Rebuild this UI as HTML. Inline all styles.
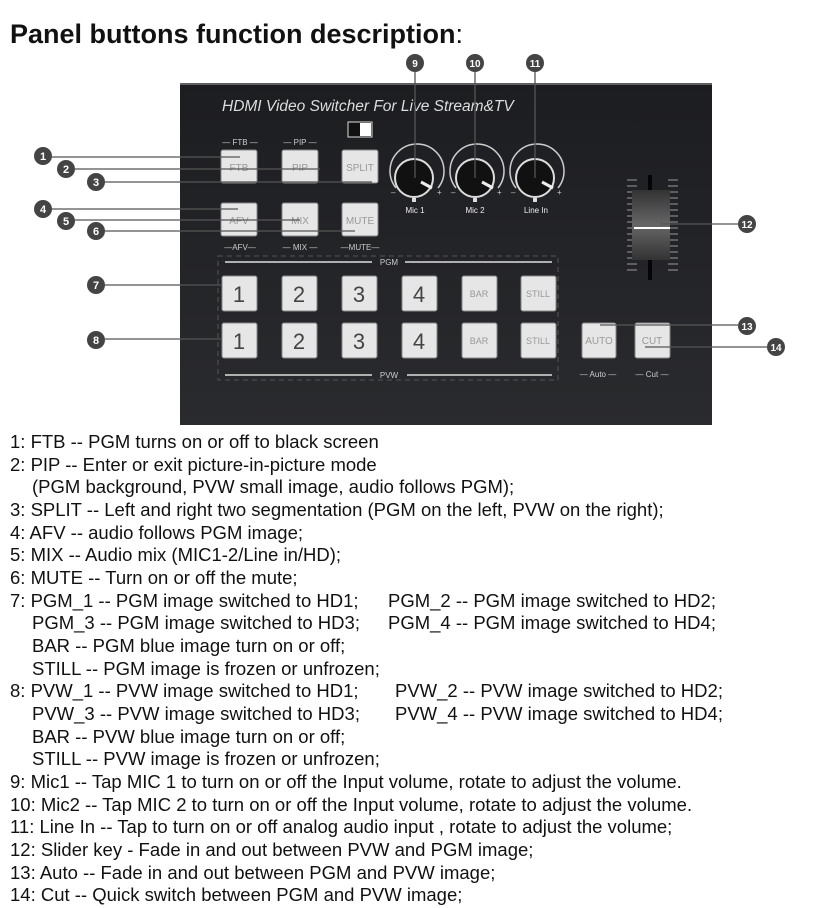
<!DOCTYPE html>
<html><head><meta charset="utf-8"><style>
body{margin:0;width:827px;height:908px;background:#fff;position:relative;overflow:hidden;font-family:"Liberation Sans",Arial,sans-serif;}
.t{position:absolute;left:10px;font-size:27px;font-weight:bold;top:19px;color:#111;white-space:nowrap;}
.l{position:absolute;font-size:18.5px;line-height:22px;color:#111;white-space:nowrap;transform:scaleX(1.0);transform-origin:left top;}
svg{position:absolute;left:0;top:0;}
</style></head><body>
<div class="t">Panel buttons function description<span style="font-weight:normal">:</span></div>
<svg width="827" height="908" viewBox="0 0 827 908" font-family="Liberation Sans, Arial, sans-serif">
<defs>
<linearGradient id="pg" x1="0" y1="0" x2="0" y2="1"><stop offset="0" stop-color="#1c1d20"/><stop offset="1" stop-color="#2a2b2e"/></linearGradient>
<linearGradient id="sl" x1="0" y1="0" x2="0" y2="1"><stop offset="0" stop-color="#333"/><stop offset=".5" stop-color="#666"/><stop offset="1" stop-color="#333"/></linearGradient>
</defs>
<rect x="180" y="83" width="532" height="342" fill="url(#pg)"/>
<line x1="180" y1="84" x2="712" y2="84" stroke="#777" stroke-width="1.5"/>
<text x="222" y="111" fill="#ddd" font-size="15.5" font-style="italic">HDMI Video Switcher For Live Stream&amp;TV</text>
<g fill="#ccc" font-size="8" text-anchor="middle">
<text x="240" y="145">— FTB —</text><text x="300" y="145">— PIP —</text>
<text x="240" y="250">—AFV—</text><text x="300" y="250">— MIX —</text><text x="360" y="250">—MUTE—</text>
<text x="598" y="377">— Auto —</text><text x="652" y="377">— Cut —</text>
<text x="415" y="213" fill="#eee">Mic 1</text><text x="475" y="213" fill="#eee">Mic 2</text><text x="536" y="213" fill="#eee">Line In</text>
</g>
<rect x="348" y="122" width="24" height="15" fill="#111" stroke="#ddd"/><rect x="360" y="123" width="11" height="13" fill="#fff"/>
<g fill="#e6e6e6" stroke="#888" stroke-width="1">
<rect x="221" y="150" width="36" height="33" rx="2"/><rect x="282" y="150" width="36" height="33" rx="2"/><rect x="342" y="150" width="36" height="33" rx="2"/>
<rect x="221" y="203" width="36" height="33" rx="2"/><rect x="282" y="203" width="36" height="33" rx="2"/><rect x="342" y="203" width="36" height="33" rx="2"/>
<rect x="222" y="276" width="35" height="35" rx="2"/><rect x="282" y="276" width="35" height="35" rx="2"/><rect x="342" y="276" width="35" height="35" rx="2"/><rect x="402" y="276" width="35" height="35" rx="2"/><rect x="462" y="276" width="35" height="35" rx="2"/><rect x="521" y="276" width="35" height="35" rx="2"/>
<rect x="222" y="323" width="35" height="35" rx="2"/><rect x="282" y="323" width="35" height="35" rx="2"/><rect x="342" y="323" width="35" height="35" rx="2"/><rect x="402" y="323" width="35" height="35" rx="2"/><rect x="462" y="323" width="35" height="35" rx="2"/><rect x="521" y="323" width="35" height="35" rx="2"/>
<rect x="582" y="323" width="34" height="35" rx="2"/><rect x="635" y="323" width="35" height="35" rx="2"/>
</g>
<g fill="#999" font-size="10" text-anchor="middle">
<text x="239" y="171">FTB</text><text x="300" y="171">PIP</text><text x="360" y="171">SPLIT</text>
<text x="239" y="224">AFV</text><text x="300" y="224">MIX</text><text x="360" y="224">MUTE</text>
<text x="479" y="297" font-size="9">BAR</text><text x="538" y="297" font-size="9">STILL</text>
<text x="479" y="344" font-size="9">BAR</text><text x="538" y="344" font-size="9">STILL</text>
<text x="599" y="344">AUTO</text><text x="652" y="344">CUT</text>
</g>
<g fill="#444" font-size="22" text-anchor="middle">
<text x="239" y="302">1</text><text x="299" y="302">2</text><text x="359" y="302">3</text><text x="419" y="302">4</text>
<text x="239" y="349">1</text><text x="299" y="349">2</text><text x="359" y="349">3</text><text x="419" y="349">4</text>
</g>
<rect x="218" y="256" width="340" height="124" fill="none" stroke="#555" stroke-dasharray="5 4"/>
<g stroke="#ddd" stroke-width="1.5"><line x1="225" y1="262" x2="372" y2="262"/><line x1="405" y1="262" x2="552" y2="262"/><line x1="225" y1="375" x2="372" y2="375"/><line x1="407" y1="375" x2="552" y2="375"/></g>
<g fill="#ccc" font-size="8" text-anchor="middle"><text x="389" y="265">PGM</text><text x="389" y="378">PVW</text></g>
<g fill="none" stroke="#ccc" stroke-width="1.5">
<path d="M396 188 A27 27 0 1 1 438 188"/><path d="M456 188 A27 27 0 1 1 498 188"/><path d="M516 188 A27 27 0 1 1 558 188"/>
<circle cx="414" cy="178" r="19" fill="#111" stroke="#ddd" stroke-width="2"/><circle cx="475" cy="178" r="19" fill="#111" stroke="#ddd" stroke-width="2"/><circle cx="535" cy="178" r="19" fill="#111" stroke="#ddd" stroke-width="2"/>
<g stroke="#eee" stroke-width="3"><line x1="421" y1="182" x2="432" y2="188"/><line x1="482" y1="182" x2="493" y2="188"/><line x1="542" y1="182" x2="553" y2="188"/></g>
</g>
<g fill="#ccc" font-size="8"><text x="391" y="195">–</text><text x="437" y="195">+</text><text x="451" y="195">–</text><text x="497" y="195">+</text><text x="511" y="195">–</text><text x="557" y="195">+</text></g>
<g fill="#ddd"><rect x="412" y="198" width="4" height="4"/><rect x="473" y="198" width="4" height="4"/><rect x="533" y="198" width="4" height="4"/></g>
<line x1="650" y1="175" x2="650" y2="280" stroke="#050505" stroke-width="4"/>
<g stroke="#999" stroke-width="1"><path d="M627 180h10M627 186h10M627 192h10M627 198h10M627 204h10M627 210h10M627 216h10M627 222h10M627 228h10M627 234h10M627 240h10M627 246h10M627 252h10M627 258h10M627 264h10M627 270h10M668 180h10M668 186h10M668 192h10M668 198h10M668 204h10M668 210h10M668 216h10M668 222h10M668 228h10M668 234h10M668 240h10M668 246h10M668 252h10M668 258h10M668 264h10M668 270h10"/></g>
<rect x="632" y="190" width="38" height="70" fill="url(#sl)"/>
<line x1="634" y1="228" x2="670" y2="228" stroke="#fff" stroke-width="2"/>
<g stroke="#555" stroke-width="1.3" fill="none">
<line x1="52" y1="157" x2="240" y2="157"/><line x1="75" y1="169" x2="320" y2="169"/><line x1="105" y1="182" x2="372" y2="182"/>
<line x1="52" y1="209" x2="238" y2="209"/><line x1="75" y1="220" x2="300" y2="220"/><line x1="105" y1="231" x2="355" y2="231"/>
<line x1="105" y1="285" x2="222" y2="285"/><line x1="105" y1="339" x2="222" y2="339"/>
<line x1="415" y1="72" x2="415" y2="178"/><line x1="475" y1="72" x2="475" y2="178"/><line x1="535" y1="72" x2="535" y2="178"/>
<line x1="660" y1="224" x2="738" y2="224"/><line x1="600" y1="325" x2="738" y2="325"/><line x1="645" y1="347" x2="767" y2="347"/>
</g>
<g fill="#444">
<circle cx="43" cy="156" r="9"/><circle cx="66" cy="169" r="9"/><circle cx="96" cy="182" r="9"/>
<circle cx="43" cy="209" r="9"/><circle cx="66" cy="221" r="9"/><circle cx="96" cy="231" r="9"/>
<circle cx="96" cy="285" r="9"/><circle cx="96" cy="340" r="9"/>
<circle cx="415" cy="63" r="9"/><circle cx="475" cy="63" r="9"/><circle cx="535" cy="63" r="9"/>
<circle cx="747" cy="224" r="9"/><circle cx="747" cy="326" r="9"/><circle cx="776" cy="347" r="9"/>
</g>
<g fill="#fff" font-size="11" font-weight="bold" text-anchor="middle">
<text x="43" y="160">1</text><text x="66" y="173">2</text><text x="96" y="186">3</text>
<text x="43" y="213">4</text><text x="66" y="225">5</text><text x="96" y="235">6</text>
<text x="96" y="289">7</text><text x="96" y="344">8</text>
<g font-size="10"><text x="415" y="67">9</text><text x="475" y="67">10</text><text x="535" y="67">11</text>
<text x="747" y="228">12</text><text x="747" y="330">13</text><text x="776" y="351">14</text></g>
</g>
</svg>
<div class="l" style="left:10px;top:431px">1: FTB -- PGM turns on or off to black screen</div>
<div class="l" style="left:10px;top:454px">2: PIP -- Enter or exit picture-in-picture mode</div>
<div class="l" style="left:32px;top:476px">(PGM background, PVW small image, audio follows PGM);</div>
<div class="l" style="left:10px;top:499px">3: SPLIT -- Left and right two segmentation (PGM on the left, PVW on the right);</div>
<div class="l" style="left:10px;top:522px">4: AFV -- audio follows PGM image;</div>
<div class="l" style="left:10px;top:544px">5: MIX -- Audio mix (MIC1-2/Line in/HD);</div>
<div class="l" style="left:10px;top:567px">6: MUTE -- Turn on or off the mute;</div>
<div class="l" style="left:10px;top:590px">7: PGM_1 -- PGM image switched to HD1;</div>
<div class="l" style="left:388px;top:590px">PGM_2 -- PGM image switched to HD2;</div>
<div class="l" style="left:32px;top:612px">PGM_3 -- PGM image switched to HD3;</div>
<div class="l" style="left:388px;top:612px">PGM_4 -- PGM image switched to HD4;</div>
<div class="l" style="left:32px;top:635px">BAR -- PGM blue image turn on or off;</div>
<div class="l" style="left:32px;top:658px">STILL -- PGM image is frozen or unfrozen;</div>
<div class="l" style="left:10px;top:680px">8: PVW_1 -- PVW image switched to HD1;</div>
<div class="l" style="left:395px;top:680px">PVW_2 -- PVW image switched to HD2;</div>
<div class="l" style="left:32px;top:703px">PVW_3 -- PVW image switched to HD3;</div>
<div class="l" style="left:395px;top:703px">PVW_4 -- PVW image switched to HD4;</div>
<div class="l" style="left:32px;top:726px">BAR -- PVW blue image turn on or off;</div>
<div class="l" style="left:32px;top:748px">STILL -- PVW image is frozen or unfrozen;</div>
<div class="l" style="left:10px;top:771px">9: Mic1 -- Tap MIC 1 to turn on or off the Input volume, rotate to adjust the volume.</div>
<div class="l" style="left:10px;top:794px">10: Mic2 -- Tap MIC 2 to turn on or off the Input volume, rotate to adjust the volume.</div>
<div class="l" style="left:10px;top:816px">11: Line In -- Tap to turn on or off analog audio input , rotate to adjust the volume;</div>
<div class="l" style="left:10px;top:839px">12: Slider key - Fade in and out between PVW and PGM image;</div>
<div class="l" style="left:10px;top:862px">13: Auto -- Fade in and out between PGM and PVW image;</div>
<div class="l" style="left:10px;top:884px">14: Cut -- Quick switch between PGM and PVW image;</div>
</body></html>
